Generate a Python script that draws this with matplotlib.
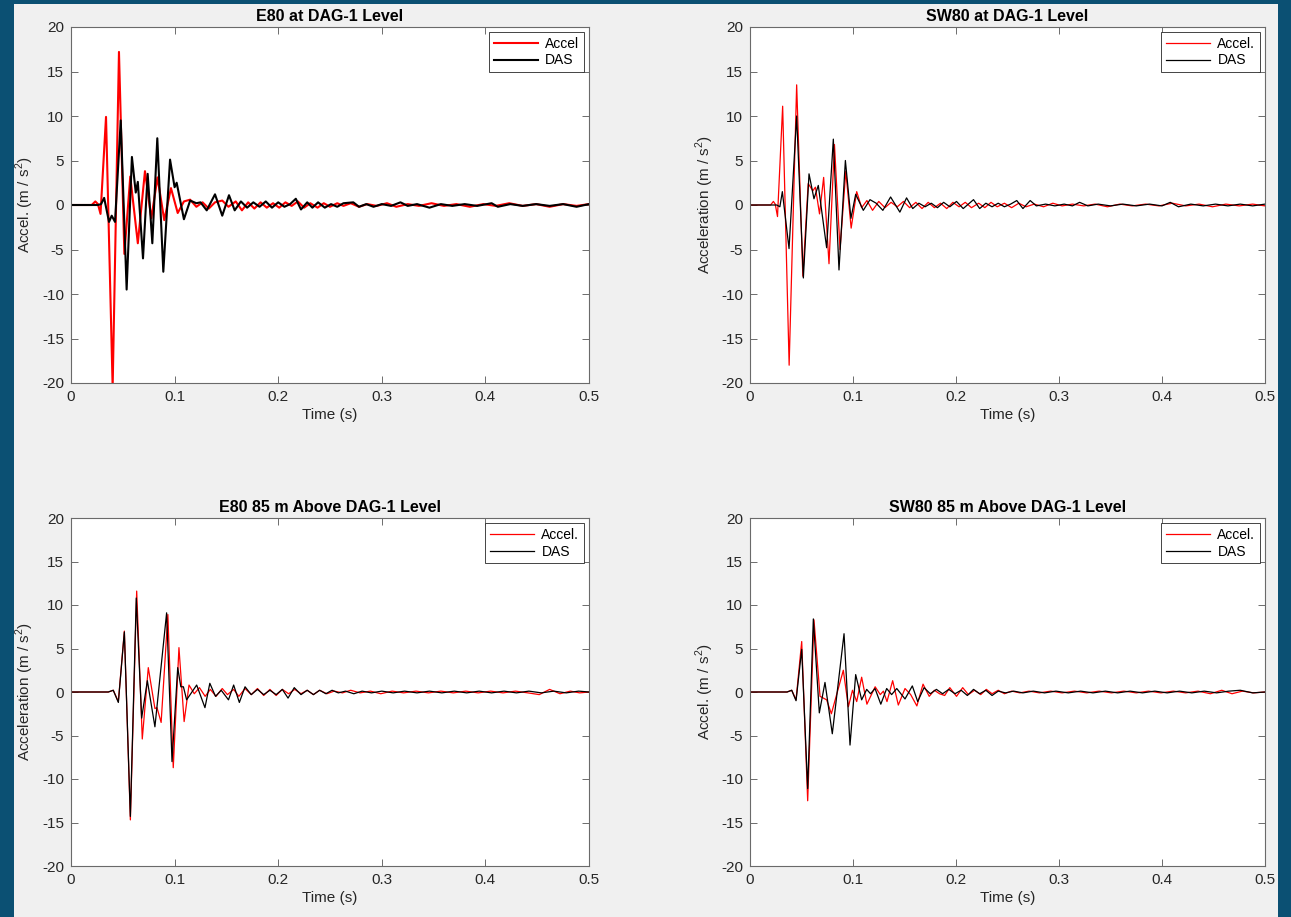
import matplotlib
matplotlib.use("Agg")
import matplotlib.pyplot as plt
from matplotlib.patches import Rectangle

plt.rcParams['font.family'] = ['Liberation Sans', 'DejaVu Sans']
plt.rcParams['axes.unicode_minus'] = False
plt.rcParams['mathtext.fontset'] = 'custom'
plt.rcParams['mathtext.rm'] = 'Liberation Sans'

# ---- data (time in s, acceleration in m/s^2) ----
x_ticks = [0, 0.1, 0.2, 0.3, 0.4, 0.5]
x_tick_labels = ['0', '0.1', '0.2', '0.3', '0.4', '0.5']
y_ticks = [-20, -15, -10, -5, 0, 5, 10, 15, 20]

# E80 at DAG-1 level
e80_accel_t = [0, 0.020, 0.0235, 0.026, 0.0285, 0.0338, 0.0402, 0.0463, 0.0515, 0.0572, 0.0645, 0.0714,
               0.0775, 0.0835, 0.0900, 0.0965, 0.1030, 0.1090,
               0.115, 0.121, 0.127, 0.133, 0.139, 0.146, 0.152, 0.159, 0.165, 0.171, 0.177, 0.183, 0.189,
               0.195, 0.201, 0.207, 0.213, 0.219, 0.225, 0.231, 0.238, 0.244, 0.250, 0.257, 0.263, 0.270,
               0.278, 0.286, 0.295, 0.305, 0.314, 0.325, 0.336, 0.348, 0.360, 0.372, 0.385, 0.398, 0.410,
               0.423, 0.436, 0.449, 0.462, 0.475, 0.488, 0.500]
e80_accel_v = [0, 0, 0.4, 0.1, -1.0, 9.9, -20.5, 17.2, -5.5, 3.2, -4.3, 3.8,
               -1.5, 3.1, -1.7, 1.9, -0.9, 0.4,
               0.6, -0.2, 0.3, -0.4, 0.3, 0.5, -0.2, 0.4, -0.6, 0.3, -0.4, 0.3, -0.3,
               0.2, -0.3, 0.3, -0.1, 0.4, -0.3, 0.2, -0.3, 0.2, -0.2, 0.2, -0.1, 0.2,
               -0.2, 0.1, -0.1, 0.2, -0.2, 0.1, -0.1, 0.2, -0.1, 0.1, -0.2, 0.1, -0.1,
               0.2, -0.1, 0.1, -0.2, 0.1, -0.1, 0.1]
e80_das_t = [0, 0.026, 0.029, 0.032, 0.0367, 0.0393, 0.0425, 0.0480, 0.0537, 0.0588, 0.0625, 0.0645,
             0.0695, 0.0740, 0.0785, 0.0833, 0.0891, 0.0956, 0.1000, 0.1020, 0.1090,
             0.115, 0.121, 0.125, 0.131, 0.139, 0.146, 0.1525, 0.158, 0.164, 0.170, 0.176, 0.182, 0.188,
             0.194, 0.200, 0.206, 0.2115, 0.217, 0.222, 0.228, 0.233, 0.2385, 0.245, 0.251, 0.257, 0.263,
             0.2725, 0.278, 0.285, 0.292, 0.300, 0.309, 0.318, 0.325, 0.334, 0.346, 0.357, 0.368, 0.380,
             0.392, 0.406, 0.412, 0.424, 0.436, 0.449, 0.462, 0.475, 0.488, 0.500]
e80_das_v = [0, 0, 0.1, 0.8, -1.9, -1.2, -1.9, 9.5, -9.5, 5.4, 1.4, 2.6,
             -6.0, 3.5, -4.3, 7.5, -7.5, 5.1, 2.0, 2.5, -1.6,
             0.5, 0.2, 0.3, -0.6, 1.2, -1.2, 1.1, -0.6, 0.4, -0.3, 0.3, -0.2, 0.4,
             -0.3, 0.3, -0.2, 0.1, 0.7, -0.5, 0.3, -0.3, 0.3, -0.3, 0.1, -0.2, 0.2,
             0.3, -0.2, 0.1, -0.2, 0.1, -0.1, 0.3, -0.1, 0.1, -0.3, 0.1, -0.1, 0.1,
             -0.1, 0.2, -0.2, 0.1, -0.1, 0.1, -0.1, 0.1, -0.2, 0.1]

# SW80 at DAG-1 level
sw80_accel_t = [0, 0.020, 0.0227, 0.0245, 0.0267, 0.0317, 0.0380, 0.0453, 0.0513, 0.0565, 0.0610, 0.0635,
                0.0675, 0.0715, 0.0767, 0.0820, 0.0874, 0.0930, 0.0982, 0.1036, 0.1084,
                0.1135, 0.119, 0.125, 0.131, 0.137, 0.143, 0.149, 0.155, 0.161, 0.167, 0.173, 0.179, 0.185,
                0.191, 0.197, 0.203, 0.209, 0.215, 0.222, 0.228, 0.234, 0.240, 0.247, 0.254, 0.261, 0.268,
                0.276, 0.285, 0.294, 0.303, 0.313, 0.324, 0.335, 0.347, 0.359, 0.371, 0.384, 0.397, 0.410,
                0.423, 0.436, 0.449, 0.462, 0.475, 0.488, 0.500]
sw80_accel_v = [0, 0, 0.4, 0.1, -1.3, 11.1, -18.0, 13.5, -8.0, 2.4, 1.6, 2.0,
                -1.0, 3.1, -6.6, 6.8, -5.0, 3.8, -2.6, 1.5, -0.3,
                0.5, -0.6, 0.4, -0.3, 0.3, -0.2, 0.4, -0.3, 0.3, -0.4, 0.3, -0.3, 0.2,
                -0.4, 0.3, -0.2, 0.3, -0.3, 0.2, -0.3, 0.3, -0.2, 0.2, -0.3, 0.2, -0.2,
                0.1, -0.2, 0.2, -0.1, 0.1, -0.1, 0.1, -0.2, 0.1, -0.1, 0.1, -0.1, 0.2,
                -0.1, 0.1, -0.2, 0.1, -0.1, 0.1, -0.1]
sw80_das_t = [0, 0.026, 0.029, 0.0314, 0.0379, 0.0453, 0.0518, 0.0573, 0.0621, 0.0663, 0.0744, 0.0809,
              0.0864, 0.0926, 0.0980, 0.1026,
              0.110, 0.1165, 0.1225, 0.129, 0.1365, 0.1455, 0.152, 0.158, 0.164, 0.170, 0.176, 0.182,
              0.188, 0.194, 0.2005, 0.207, 0.212, 0.217, 0.223, 0.229, 0.235, 0.241, 0.247, 0.253, 0.259,
              0.265, 0.272, 0.278, 0.287, 0.296, 0.305, 0.313, 0.320, 0.328, 0.338, 0.350, 0.362, 0.375,
              0.388, 0.400, 0.408, 0.416, 0.428, 0.440, 0.452, 0.464, 0.476, 0.488, 0.500]
sw80_das_v = [0, 0, -0.2, 1.5, -4.9, 10.0, -8.2, 3.5, 0.7, 2.2, -4.8, 7.4,
              -7.3, 5.0, -1.5, 1.2,
              -0.6, 0.6, 0.2, -0.6, 0.9, -0.8, 0.8, -0.4, 0.2, -0.2, 0.2, -0.3,
              0.3, -0.2, 0.4, -0.4, 0.1, 0.6, -0.4, 0.2, -0.2, 0.2, -0.2, 0.1, 0.5,
              -0.4, 0.5, -0.1, 0.1, -0.1, 0.1, -0.1, 0.3, -0.1, 0.1, -0.1, 0.1, -0.1,
              0.1, -0.1, 0.3, -0.2, 0.1, -0.1, 0.1, -0.1, 0.1, -0.1, 0.1]

# E80 85 m above DAG-1 level
e80up_accel_t = [0, 0.036, 0.0408, 0.0457, 0.0515, 0.0573, 0.0634, 0.0688, 0.0746, 0.0810, 0.0830, 0.0870,
                 0.0935, 0.0987, 0.1042, 0.1092, 0.1139,
                 0.119, 0.124, 0.1295, 0.1345, 0.140, 0.146, 0.151, 0.157, 0.162, 0.168, 0.174, 0.180,
                 0.186, 0.192, 0.198, 0.204, 0.210, 0.216, 0.222, 0.228, 0.234, 0.240, 0.247, 0.254, 0.262,
                 0.270, 0.279, 0.289, 0.299, 0.310, 0.321, 0.333, 0.345, 0.357, 0.369, 0.381, 0.393, 0.405,
                 0.417, 0.429, 0.441, 0.452, 0.462, 0.472, 0.482, 0.491, 0.500]
e80up_accel_v = [0, 0, 0.2, -1.1, 7.0, -14.7, 11.6, -5.4, 2.8, -1.9, -1.8, -3.5,
                 8.9, -8.7, 5.1, -3.4, 0.8,
                 -0.2, 0.5, -0.5, 0.3, -0.5, 0.4, -0.3, 0.3, -0.5, 0.4, -0.3, 0.4,
                 -0.4, 0.3, -0.4, 0.3, -0.2, 0.3, -0.2, 0.2, -0.3, 0.2, -0.2, 0.1, -0.1,
                 0.2, -0.1, 0.1, -0.2, 0.1, -0.1, 0.1, -0.1, 0.1, -0.1, 0.1, -0.1, 0.1,
                 -0.1, 0.1, -0.1, -0.3, 0.3, -0.2, 0.1, -0.1, 0.0]
e80up_das_t = [0, 0.036, 0.0408, 0.0457, 0.0515, 0.0573, 0.0630, 0.0682, 0.0737, 0.0810, 0.0923, 0.0975,
               0.1030, 0.1060, 0.1085, 0.1116, 0.1213, 0.1293, 0.1340,
               0.1395, 0.145, 0.152, 0.157, 0.1625, 0.168, 0.174, 0.180, 0.186, 0.192, 0.198, 0.204,
               0.2095, 0.2155, 0.222, 0.228, 0.234, 0.240, 0.246, 0.252, 0.258, 0.265, 0.273, 0.281,
               0.290, 0.300, 0.311, 0.322, 0.334, 0.346, 0.358, 0.370, 0.382, 0.394, 0.406, 0.418,
               0.430, 0.442, 0.454, 0.466, 0.478, 0.490, 0.500]
e80up_das_v = [0, 0, 0.2, -1.2, 6.9, -14.3, 10.8, -3.0, 1.3, -4.0, 9.1, -8.0,
               2.8, 0.6, 0.6, -0.9, 0.8, -1.8, 1.0,
               -0.5, 0.2, -0.9, 0.8, -1.2, 0.6, -0.3, 0.3, -0.3, 0.2, -0.3, 0.3,
               -0.7, 0.5, -0.3, 0.2, -0.3, 0.2, -0.2, 0.2, -0.1, 0.1, -0.2, 0.1,
               -0.1, 0.1, -0.1, 0.1, -0.1, 0.1, -0.1, 0.1, -0.1, 0.1, -0.1, 0.1,
               -0.1, 0.1, -0.1, 0.1, -0.1, 0.1, 0.0]

# SW80 85 m above DAG-1 level
sw80up_accel_t = [0, 0.036, 0.0405, 0.0447, 0.0502, 0.0560, 0.0621, 0.0680, 0.0744, 0.0790, 0.0906, 0.0955,
                  0.0995, 0.1036, 0.1084,
                  0.1135, 0.1215, 0.1265, 0.1295, 0.133, 0.1385, 0.144, 0.1505, 0.156, 0.162, 0.168, 0.174,
                  0.179, 0.184, 0.189, 0.194, 0.2005, 0.2065, 0.212, 0.218, 0.224, 0.2295, 0.235, 0.241,
                  0.247, 0.254, 0.262, 0.271, 0.281, 0.292, 0.303, 0.315, 0.327, 0.339, 0.351, 0.363, 0.375,
                  0.387, 0.399, 0.411, 0.423, 0.435, 0.447, 0.458, 0.468, 0.478, 0.489, 0.500]
sw80up_accel_v = [0, 0, 0.2, -0.9, 5.8, -12.5, 8.3, -0.5, -0.9, -2.5, 2.5, -1.7,
                  0.2, -1.1, 1.7,
                  -1.4, 0.6, -0.3, 0.1, -1.1, 1.3, -1.5, 0.4, -0.3, -1.6, 0.9, -0.5,
                  0.2, -0.2, -0.4, 0.5, -0.5, 0.5, -0.3, 0.2, -0.3, 0.3, -0.2, 0.2,
                  -0.2, 0.1, -0.1, 0.1, -0.1, 0.1, -0.1, 0.1, -0.1, 0.1, -0.1, 0.1, -0.1,
                  0.1, -0.1, 0.1, -0.1, 0.1, -0.2, 0.2, -0.2, 0.1, -0.1, 0.0]
sw80up_das_t = [0, 0.036, 0.0405, 0.0447, 0.0502, 0.0560, 0.0615, 0.0673, 0.0728, 0.0799, 0.0913, 0.0971,
                0.1026, 0.1084,
                0.1133, 0.117, 0.1214, 0.127, 0.1327, 0.1375, 0.1425, 0.1505, 0.1576, 0.1628, 0.169, 0.175,
                0.181, 0.187, 0.193, 0.199, 0.205, 0.211, 0.217, 0.223, 0.229, 0.235, 0.241, 0.248, 0.256,
                0.265, 0.275, 0.286, 0.297, 0.309, 0.321, 0.333, 0.345, 0.357, 0.369, 0.381, 0.393, 0.405,
                0.417, 0.429, 0.441, 0.453, 0.465, 0.476, 0.488, 0.500]
sw80up_das_v = [0, 0, 0.2, -1.0, 4.9, -11.1, 8.4, -2.4, 1.1, -4.8, 6.7, -6.1,
                2.0, -0.9,
                0.3, -0.2, 0.4, -1.4, 0.4, -0.3, 0.4, -0.8, 0.7, -1.1, 0.5, -0.2,
                0.3, -0.2, 0.3, -0.2, 0.2, -0.4, 0.3, -0.2, 0.2, -0.4, 0.1, -0.1, 0.1,
                -0.1, 0.1, -0.1, 0.1, -0.1, 0.1, -0.1, 0.1, -0.1, 0.1, -0.1, 0.1, -0.1,
                0.1, -0.1, 0.1, -0.1, 0.1, 0.2, -0.1, 0.0]

panels = [
    ("E80 at DAG-1 Level", "Accel. (m / s$^2$)", "Accel",
     e80_accel_t, e80_accel_v, e80_das_t, e80_das_v, 1.5),
    ("SW80 at DAG-1 Level", "Acceleration (m / s$^2$)", "Accel.",
     sw80_accel_t, sw80_accel_v, sw80_das_t, sw80_das_v, 0.9),
    ("E80 85 m Above DAG-1 Level", "Acceleration (m / s$^2$)", "Accel.",
     e80up_accel_t, e80up_accel_v, e80up_das_t, e80up_das_v, 0.9),
    ("SW80 85 m Above DAG-1 Level", "Accel. (m / s$^2$)", "Accel.",
     sw80up_accel_t, sw80up_accel_v, sw80up_das_t, sw80up_das_v, 0.9),
]

W, H = 1291, 917
fig = plt.figure(figsize=(W / 100, H / 100), dpi=100, facecolor='#0b5073')
fig.patches.append(Rectangle((14 / W, 0), (1278 - 14) / W, 1 - 4 / H, transform=fig.transFigure,
                             facecolor='#f0f0f0', edgecolor='none', zorder=-1))

# axes boxes in pixels: (left, top, right, bottom)
boxes = [(71, 27, 589, 383), (750, 27, 1265, 383),
         (71, 518, 589, 866), (750, 518, 1265, 866)]

for (title, ylab, acc_label, at, av, dt, dv, lw), (l, t, r, b) in zip(panels, boxes):
    ax = fig.add_axes([l / W, 1 - b / H, (r - l) / W, (b - t) / H])
    ax.plot(at, av, color='red', lw=lw, label=acc_label)
    ax.plot(dt, dv, color='black', lw=lw, label='DAS')
    ax.set_xlim(0, 0.5)
    ax.set_ylim(-20, 20)
    ax.set_xticks(x_ticks)
    ax.set_xticklabels(x_tick_labels)
    ax.set_yticks(y_ticks)
    ax.tick_params(direction='in', top=True, right=True, length=5, width=0.6,
                   color='#555555', labelsize=11, labelcolor='#262626', pad=5)
    for s in ax.spines.values():
        s.set_color('#6a6a6a')
        s.set_linewidth(0.8)
    ax.set_title(title, fontsize=11.5, fontweight='bold', pad=4)
    ax.set_xlabel('Time (s)', fontsize=11, color='#262626', labelpad=3)
    ax.set_ylabel(ylab, fontsize=11, color='#262626', labelpad=4)
    leg = ax.legend(loc='upper right', fontsize=10, fancybox=False, framealpha=1,
                    edgecolor='#262626', borderaxespad=0.35, handlelength=3.2,
                    handletextpad=0.5, borderpad=0.35, labelspacing=0.2)
    leg.get_frame().set_linewidth(0.6)

fig.savefig('out.png', dpi=100, facecolor=fig.get_facecolor())
